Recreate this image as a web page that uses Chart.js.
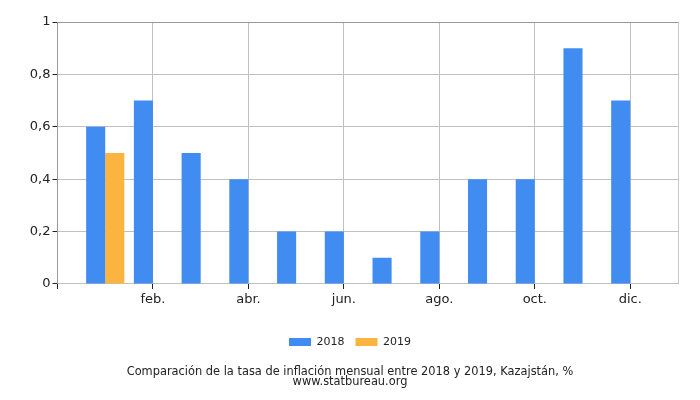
<!DOCTYPE html>
<html>
<head>
<meta charset="utf-8">
<script src="https://cdn.jsdelivr.net/npm/chart.js@4"></script>
<style>
  html, body { margin: 0; padding: 0; background: #fff; }
  #wrap { width: 700px; height: 400px; }
</style>
</head>
<body>
<div id="wrap"><canvas id="chart" width="700" height="400"></canvas></div>
<script>
const months = ['ene.', 'feb.', 'mar.', 'abr.', 'may.', 'jun.', 'jul.', 'ago.', 'sep.', 'oct.', 'nov.', 'dic.'];
const values2018 = [0.6, 0.7, 0.5, 0.4, 0.2, 0.2, 0.1, 0.2, 0.4, 0.4, 0.9, 0.7];
const values2019 = [0.5, null, null, null, null, null, null, null, null, null, null, null];
const yTicks = [0, 0.2, 0.4, 0.6, 0.8, 1];

// empty slot on each side so the axis runs 0..13 like the original
const labels = [''].concat(months, ['']);
const pad = arr => [null].concat(arr, [null]);

const fmt = v => String(Math.round(v * 10) / 10).replace('.', ',');

Chart.defaults.font.family = "'DejaVu Sans', sans-serif";
Chart.defaults.color = '#222';

new Chart(document.getElementById('chart'), {
    type: 'bar',
    data: {
        labels: labels,
        datasets: [
            { label: '2018', data: pad(values2018), backgroundColor: '#418cf0', borderWidth: 0 },
            { label: '2019', data: pad(values2019), backgroundColor: '#fcb441', borderWidth: 0 }
        ]
    },
    options: {
        responsive: false,
        animation: false,
        categoryPercentage: 0.8,
        barPercentage: 1.0,
        layout: { padding: { left: 22, right: 22, top: 22, bottom: 0 } },
        plugins: {
            tooltip: { enabled: false },
            legend: {
                position: 'bottom',
                labels: {
                    boxWidth: 22,
                    boxHeight: 8,
                    padding: 11,
                    font: { size: 11 },
                    color: '#222'
                }
            },
            title: {
                display: true,
                position: 'bottom',
                text: ['Comparación de la tasa de inflación mensual entre 2018 y 2019, Kazajstán, %', 'www.statbureau.org'],
                font: { size: 11.4, weight: 'normal', lineHeight: 0.9 },
                color: '#222',
                padding: { top: 9, bottom: 13 }
            }
        },
        scales: {
            x: {
                offset: false,
                afterFit: scale => { scale.height = 41.5; },
                grid: {
                    offset: false,
                    color: ctx => {
                        const i = ctx.index;
                        if (i === 13) return '#c8c8c8';
                        return (i > 0 && i % 2 === 0) ? '#c0c0c0' : 'rgba(0,0,0,0)';
                    },
                    tickColor: ctx => (ctx.index % 2 === 0 && ctx.index < 13) ? '#222' : 'rgba(0,0,0,0)',
                    tickLength: 5,
                    lineWidth: 1
                },
                border: { color: '#c0c0c0' },
                ticks: {
                    autoSkip: false,
                    maxRotation: 0,
                    padding: 3,
                    font: { size: 13 },
                    color: '#222',
                    callback: function(value, index) {
                        return (index > 0 && index % 2 === 0 && index < 13) ? labels[index] : '';
                    }
                }
            },
            y: {
                min: 0,
                max: 1,
                afterBuildTicks: scale => { scale.ticks = yTicks.map(v => ({ value: v })); },
                afterFit: scale => { scale.width = 35.5; },
                grid: {
                    color: ctx => ctx.tick && ctx.tick.value === 1 ? '#999' : '#c0c0c0',
                    tickColor: '#222',
                    tickLength: 5
                },
                border: { color: '#999' },
                ticks: {
                    padding: 2,
                    font: { size: 13 },
                    color: '#222',
                    callback: v => fmt(v)
                }
            }
        }
    }
});
</script>
</body>
</html>
